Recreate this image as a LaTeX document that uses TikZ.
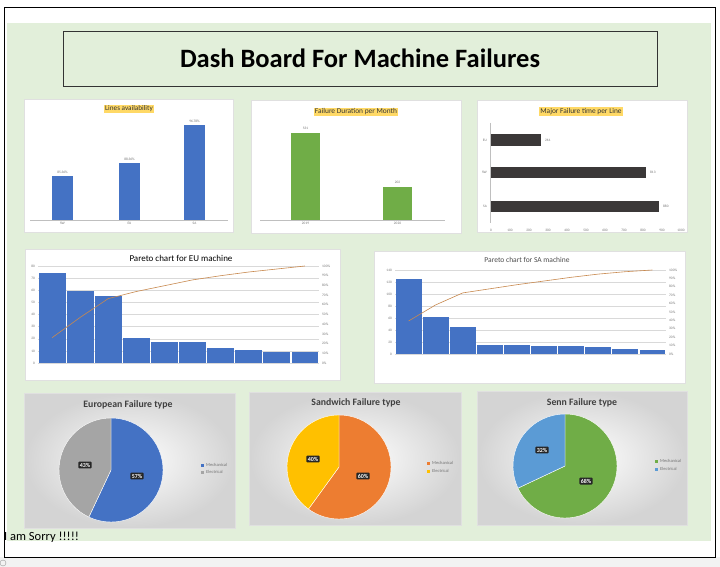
\documentclass[tikz,border=0pt]{standalone}
\usepackage{fontspec}
\setmainfont{Carlito}
\usepackage{tikz}
\usetikzlibrary{positioning}
\definecolor{boardgreen}{HTML}{E2EFDA}
\definecolor{titleyellow}{HTML}{FFD966}
\definecolor{xlblue}{HTML}{4472C4}
\definecolor{xlgreen}{HTML}{70AD47}
\definecolor{xlorange}{HTML}{ED7D31}
\definecolor{xlgold}{HTML}{FFC000}
\definecolor{xlgray}{HTML}{A5A5A5}
\definecolor{xlsky}{HTML}{5B9BD5}
\definecolor{xldark}{HTML}{3B3838}
\definecolor{cumcolor}{HTML}{C8894F}
\tikzset{
  panel/.style={fill=white, draw=black!12},
  headbox/.style={draw=black!80, line width=0.9pt, fill=boardgreen, font=\fontsize{26.5}{30}\selectfont\bfseries},
  charttitle/.style={fill=titleyellow, inner sep=1.3pt, font=\fontsize{7.4}{8}\selectfont, text=black!80},
  paretotitle/.style={font=\fontsize{9}{10}\selectfont},
  pietitle/.style={font=\fontsize{9.8}{11}\selectfont\bfseries, text=black!75},
  ticklabel/.style={font=\fontsize{3.5}{4}\selectfont, text=black!55, inner sep=1pt},
  gridline/.style={black!15, line width=0.4pt},
  axisline/.style={black!25, line width=0.5pt},
  cumline/.style={cumcolor, line width=0.6pt},
  pielabel/.style={fill=black!85, text=white, rounded corners=1pt, inner sep=1.4pt, font=\fontsize{6}{6}\selectfont\bfseries},
  legendtext/.style={font=\fontsize{4.5}{5}\selectfont, text=black!55, anchor=west, inner sep=1pt},
  pieback/.style={inner color=white, outer color=black!17}
}
\begin{document}
\begin{tikzpicture}[x=1pt,y=-1pt]
\useasboundingbox (0,0) rectangle (720,567);
% sheet and frame
\fill[black!5] (0,557) rectangle (720,567);
\draw[black!40] (3,563) circle (3);
\fill[white] (4,8) rectangle (715,557);
\fill[boardgreen] (7,23) rectangle (711,541);
\draw[line width=1pt] (4,8) rectangle (715,557);
\node[headbox, minimum width=594, minimum height=55] (head) at (360,58.5) {Dash Board For Machine Failures};

% lines availability
\draw[panel] (24,99) rectangle (233,232);
\node[charttitle, font=\fontsize{7.2}{8}\selectfont] (avltitle) at (129,109) {Lines availability};
\draw[axisline] (30,220) -- (228,220);
\foreach \x/\t/\v/\c [count=\i] in {52/176/85.36\%/SW,119/163/88.36\%/EU,184/125/96.78\%/SA}{
  \fill[xlblue] (\x,\t) rectangle (\x+21,220);
  \node[ticklabel, above=1pt] (avlval\i) at (\x+10.5,\t) {\v};
  \node[ticklabel, below=1pt] (avlcat\i) at (\x+10.5,220) {\c};
}

% failure duration
\draw[panel] (251,100) rectangle (461,233);
\node[charttitle] (durtitle) at (356,112) {Failure Duration per Month};
\draw[axisline] (260,220) -- (445,220);
\foreach \x/\t/\v/\c [count=\i] in {291/133/531/2019,383/187/202/2020}{
  \fill[xlgreen] (\x,\t) rectangle (\x+29,220);
  \node[ticklabel, above=2pt] (durval\i) at (\x+14.5,\t) {\v};
  \node[ticklabel, below=1pt] (durcat\i) at (\x+14.5,220) {\c};
}

% major failure time
\draw[panel] (477,100) rectangle (687,232);
\node[charttitle] (majtitle) at (581,111.5) {Major Failure time per Line};
\draw[axisline] (490,123) -- (490,223);
\foreach \k [evaluate=\k as \n using int(100*\k)] in {0,...,10}
  \node[ticklabel] (majtick\k) at (491+19*\k,230) {\n};
\foreach \t/\b/\e/\c/\v [count=\i] in {134/146/541/EU/261,167/178/646/SW/813,201/212/659/SA/880}{
  \fill[xldark] (491,\t) rectangle (\e,\b);
  \node[ticklabel, anchor=west] (majval\i) at (\e+3,\t/2+\b/2) {\v};
  \node[ticklabel, anchor=east] (majcat\i) at (488,\t/2+\b/2) {\c};
}

% pareto EU
\draw[panel] (25,249) rectangle (340,380);
\node[paretotitle] (eutitle) at (181,258) {Pareto chart for EU machine};
\foreach \k [evaluate=\k as \n using int(10*\k)] in {0,...,8}{
  \draw[gridline] (38,363-12.125*\k) -- (319,363-12.125*\k);
  \node[ticklabel, anchor=east] (euleft\k) at (36,363-12.125*\k) {\n};
}
\foreach \k [evaluate=\k as \n using int(10*\k)] in {0,...,10}
  \node[ticklabel, anchor=west] (euright\k) at (321,363-9.7*\k) {\n\%};
\foreach \v [count=\i] in {74,59.5,55,21,17,17,12.3,10.7,8.8,8.8}
  \fill[xlblue] (38+28.1*\i-28.1+0.6,363-1.2125*\v) rectangle (38+28.1*\i-0.6,363);
\draw[cumline] (52.05,337.7) -- (80.15,317.4) -- (108.25,298.6) -- (136.35,291.5) -- (164.45,285.7)
  -- (192.55,279.9) -- (220.65,275.7) -- (248.75,272.0) -- (276.85,269.0) -- (304.95,266.0);

% pareto SA
\draw[panel] (374,251) rectangle (685,383);
\node[paretotitle, font=\fontsize{7.5}{9}\selectfont, text=black!70] (satitle) at (527,260) {Pareto chart for SA machine};
\foreach \k [evaluate=\k as \n using int(20*\k)] in {0,...,7}{
  \draw[gridline] (395,354-12*\k) -- (666,354-12*\k);
  \node[ticklabel, anchor=east] (saleft\k) at (393,354-12*\k) {\n};
}
\foreach \k [evaluate=\k as \n using int(10*\k)] in {0,...,10}
  \node[ticklabel, anchor=west] (saright\k) at (668,354-8.4*\k) {\n\%};
\foreach \v [count=\i] in {124.5,61,45,15.5,15.5,14,14,12,9,6.6}
  \fill[xlblue] (395+27.1*\i-27.1+0.6,354-0.6*\v) rectangle (395+27.1*\i-0.6,354);
\draw[cumline] (408.55,321.0) -- (435.65,304.9) -- (462.75,292.9) -- (489.85,288.8) -- (516.95,284.7)
  -- (544.05,281.0) -- (571.15,277.3) -- (598.25,274.1) -- (625.35,271.7) -- (652.45,270.0);

% european pie
\shade[pieback] (24,393) rectangle (235,528);
\draw[black!12] (24,393) rectangle (235,528);
\node[pietitle] (eupietitle) at (128,405) {European Failure type};
\filldraw[fill=xlblue, draw=white, line width=0.4pt] (111,470) -- ++(-90:52) arc[start angle=-90, end angle=115.2, radius=52] -- cycle;
\filldraw[fill=xlgray, draw=white, line width=0.4pt] (111,470) -- ++(115.2:52) arc[start angle=115.2, end angle=270, radius=52] -- cycle;
\node[pielabel] (eumech) at (137,476) {57\%};
\node[pielabel] (euelec) at (85,465) {43\%};
\fill[xlblue] (201,463.5) rectangle ++(3,3);
\node[legendtext] (eulegm) at (205,465) {Mechanical};
\fill[xlgray] (201,470.5) rectangle ++(3,3);
\node[legendtext] (eulege) at (205,472) {Electrical};

% sandwich pie
\shade[pieback] (249,392) rectangle (461,525);
\draw[black!12] (249,392) rectangle (461,525);
\node[pietitle] (swpietitle) at (356,403) {Sandwich Failure type};
\filldraw[fill=xlorange, draw=white, line width=0.4pt] (339,467) -- ++(-90:52) arc[start angle=-90, end angle=126, radius=52] -- cycle;
\filldraw[fill=xlgold, draw=white, line width=0.4pt] (339,467) -- ++(126:52) arc[start angle=126, end angle=270, radius=52] -- cycle;
\node[pielabel] (swmech) at (363,476) {60\%};
\node[pielabel] (swelec) at (313,459) {40\%};
\fill[xlorange] (427,461.5) rectangle ++(3,3);
\node[legendtext] (swlegm) at (431,463) {Mechanical};
\fill[xlgold] (427,469.5) rectangle ++(3,3);
\node[legendtext] (swlege) at (431,471) {Electrical};

% senn pie
\shade[pieback] (477,391) rectangle (687,525);
\draw[black!12] (477,391) rectangle (687,525);
\node[pietitle] (sepietitle) at (582,403) {Senn Failure type};
\filldraw[fill=xlgreen, draw=white, line width=0.4pt] (565,466) -- ++(-90:52) arc[start angle=-90, end angle=154.8, radius=52] -- cycle;
\filldraw[fill=xlsky, draw=white, line width=0.4pt] (565,466) -- ++(154.8:52) arc[start angle=154.8, end angle=270, radius=52] -- cycle;
\node[pielabel] (semech) at (586,481) {68\%};
\node[pielabel] (seelec) at (542,450) {32\%};
\fill[xlgreen] (655,459.5) rectangle ++(3,3);
\node[legendtext] (selegm) at (659,461) {Mechanical};
\fill[xlsky] (655,467.5) rectangle ++(3,3);
\node[legendtext] (selege) at (659,469) {Electrical};

\node[anchor=west, inner sep=0pt, font=\fontsize{12.5}{14}\selectfont] (sorry) at (4,537) {I am Sorry !!!!!};
\end{tikzpicture}
\end{document}
